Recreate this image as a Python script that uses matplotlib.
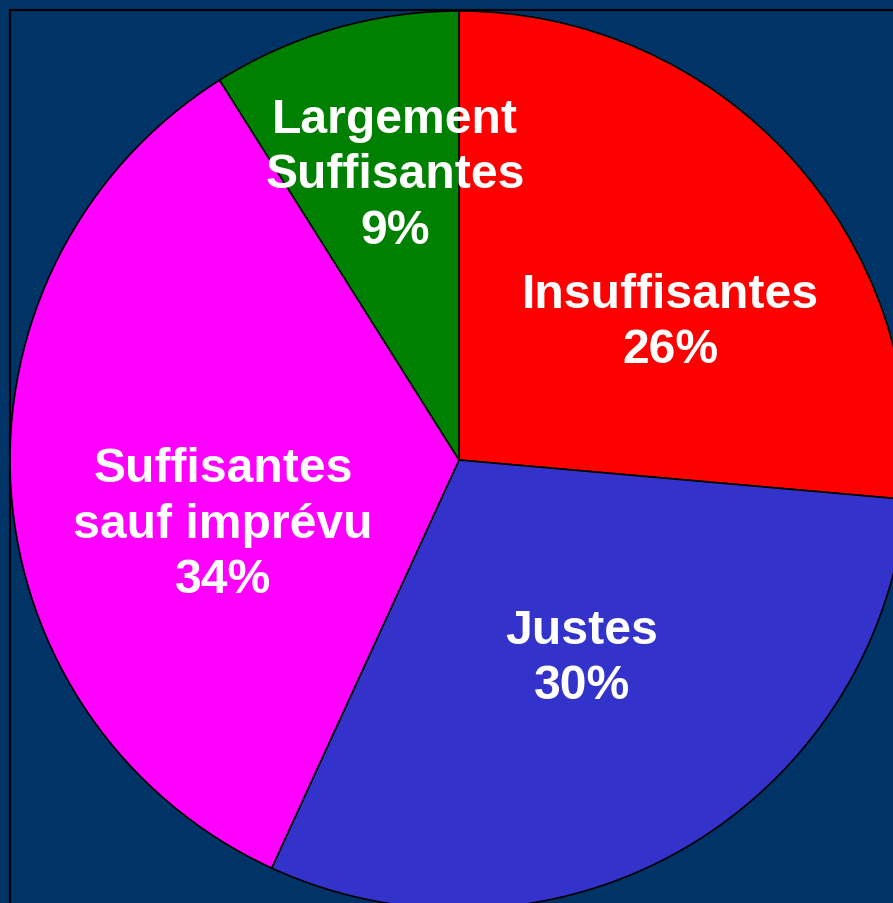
import matplotlib
matplotlib.use("Agg")
import matplotlib.pyplot as plt
from matplotlib.patches import Rectangle

# Data
categories = ["Insuffisantes", "Justes", "Suffisantes\nsauf imprévu", "Largement\nSuffisantes"]
values = [26.4, 30.45, 34.2, 8.95]
pct_labels = ["26%", "30%", "34%", "9%"]
colors = ["#FF0000", "#3333CC", "#FF00FF", "#008000"]

# Layout (pixel coordinates of the 893x904 canvas, y measured from top)
W, H = 893, 904
center_px = (459, 461)
radius_px = 449
label_px = [(670, 323), (582, 659), (223, 525), (395, 176)]
bg = "#003366"

fig = plt.figure(figsize=(W / 100, H / 100), dpi=100, facecolor=bg)
ax = fig.add_axes([0, 0, 1, 1])
ax.set_facecolor(bg)

# frame
ax.add_patch(Rectangle((10, -100), W + 200, H - 11 + 100, fill=False,
                       edgecolor="black", linewidth=1.5, zorder=0))

cx, cy = center_px[0], H - center_px[1]
wedges, _ = ax.pie(values, colors=colors, startangle=90, counterclock=False,
                   center=(cx, cy), radius=radius_px, frame=True,
                   wedgeprops=dict(edgecolor="black", linewidth=1.2))
ax.set_xlim(0, W)
ax.set_ylim(0, H)
ax.set_aspect("auto")
ax.axis("off")

for cat, pct, (lx, ly) in zip(categories, pct_labels, label_px):
    ax.text(lx, H - ly, f"{cat}\n{pct}", ha="center", va="center",
            color="white", fontsize=34.7, fontweight="bold",
            family="Liberation Sans", linespacing=1.3, zorder=5)

fig.savefig("out.png", dpi=100, facecolor=bg)
